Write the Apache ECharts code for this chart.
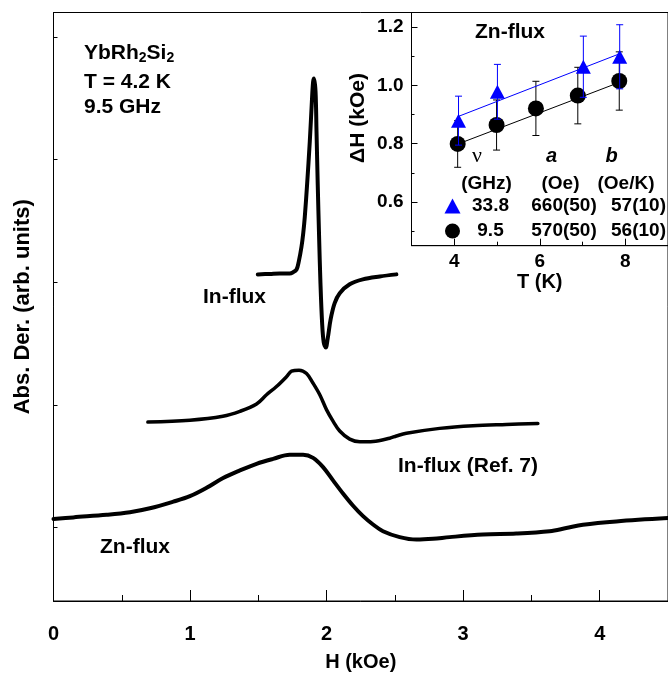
<!DOCTYPE html>
<html>
<head>
<meta charset="utf-8">
<script src="https://cdn.jsdelivr.net/npm/echarts@6/dist/echarts.min.js"></script>
<style>
  html, body { margin: 0; padding: 0; background: #fff; }
  #chart { width: 668px; height: 677px; }
</style>
</head>
<body>
<div id="chart"></div>
<script>
// ESR absorption-derivative spectra of YbRh2Si2 (field in kOe, signal in arbitrary units)
const inFluxField = [1.496, 1.584, 1.657, 1.730, 1.752, 1.780, 1.796, 1.816, 1.829, 1.840,
  1.857, 1.877, 1.892, 1.901, 1.908, 1.919, 1.926, 1.935, 1.945, 1.955,
  1.967, 1.979, 1.994, 2.008, 2.030, 2.059, 2.096, 2.169, 2.265, 2.389, 2.511];
const inFluxSignal = [2.664, 2.668, 2.672, 2.672, 2.680, 2.704, 2.768, 2.889, 3.002, 3.130,
  3.396, 3.750, 4.072, 4.233, 4.261, 4.152, 3.831, 3.396, 2.969, 2.591,
  2.269, 2.108, 2.068, 2.141, 2.301, 2.430, 2.511, 2.583, 2.623, 2.647, 2.664];

const refField = [0.691, 0.999, 1.240, 1.365, 1.487, 1.560, 1.633, 1.706, 1.743, 1.798,
  1.853, 1.901, 1.950, 1.999, 2.047, 2.096, 2.169, 2.243, 2.340, 2.462,
  2.511, 2.584, 2.828, 3.072, 3.316, 3.547];
const refSignal = [1.459, 1.475, 1.507, 1.547, 1.607, 1.682, 1.749, 1.829, 1.875, 1.883,
  1.856, 1.776, 1.682, 1.561, 1.467, 1.387, 1.320, 1.298, 1.301, 1.328,
  1.346, 1.368, 1.408, 1.430, 1.440, 1.448];

const znFluxField = [0.0, 0.145, 0.389, 0.560, 0.706, 0.877, 0.999, 1.121, 1.242, 1.365,
  1.487, 1.608, 1.730, 1.828, 1.901, 1.974, 2.047, 2.120, 2.194, 2.267,
  2.340, 2.413, 2.535, 2.658, 2.779, 2.901, 3.145, 3.389, 3.633, 3.755,
  3.877, 4.121, 4.5];
const znFluxSignal = [0.668, 0.682, 0.703, 0.724, 0.756, 0.810, 0.855, 0.923, 1.003, 1.065,
  1.119, 1.159, 1.193, 1.193, 1.167, 1.092, 0.984, 0.877, 0.777, 0.692,
  0.624, 0.569, 0.521, 0.501, 0.507, 0.521, 0.542, 0.550, 0.569, 0.595,
  0.622, 0.649, 0.676];

const fieldTicks = [0, 1, 2, 3, 4];
const fieldMinorTicks = [0.5, 1.5, 2.5, 3.5];
const signalTicks = [0.6, 1.6, 2.6, 3.6, 4.6];

// Inset: linewidth vs temperature (kOe, K)
const tempHigh = [4.10, 5.01, 7.02, 7.87];
const widthHigh = [0.879, 0.978, 1.064, 1.098];
const errHigh = [0.084, 0.094, 0.105, 0.110];

const tempLow = [4.08, 4.99, 5.91, 6.89, 7.86];
const widthLow = [0.799, 0.864, 0.921, 0.965, 1.015];
const errLow = [0.080, 0.086, 0.093, 0.097, 0.100];

// Fit parameters, dH = a + b*T
const freqLabels = ['33.8', '9.5'];
const fitA = [660, 570];          // Oe
const fitB = [57, 56];            // Oe/K
const fitALabels = ['660(50)', '570(50)'];
const fitBLabels = ['57(10)', '56(10)'];

const tempTicks = [4, 6, 8];
const tempMinorTicks = [5, 7];
const widthTicks = [0.6, 0.8, 1.0, 1.2];
const widthMinorTicks = [0.5, 0.7, 0.9, 1.1];

const BLUE = '#0000ff';
const FONT = '"Liberation Sans", Arial, Helvetica, sans-serif';

const zip = (xs, ys) => xs.map((x, i) => [x, ys[i]]);
const zip3 = (xs, ys, es) => xs.map((x, i) => [x, ys[i], es[i]]);
const fitLine = (temps, k) => {
  const t0 = Math.min(...temps), t1 = Math.max(...temps);
  return [t0, t1].map(t => [t, (fitA[k] + fitB[k] * t) / 1000]);
};

function errorBars(color) {
  return function (params, api) {
    const x = api.value(0), y = api.value(1), e = api.value(2);
    const top = api.coord([x, y + e]);
    const bot = api.coord([x, y - e]);
    const hw = 3.5;
    const st = { stroke: color, lineWidth: 1 };
    return {
      type: 'group',
      children: [
        { type: 'line', shape: { x1: top[0], y1: top[1], x2: bot[0], y2: bot[1] }, style: st },
        { type: 'line', shape: { x1: top[0] - hw, y1: top[1], x2: top[0] + hw, y2: top[1] }, style: st },
        { type: 'line', shape: { x1: bot[0] - hw, y1: bot[1], x2: bot[0] + hw, y2: bot[1] }, style: st }
      ]
    };
  };
}

const bold = (size, extra) => Object.assign({ fontFamily: FONT, fontWeight: 'bold', fontSize: size, color: '#000' }, extra || {});

const chart = echarts.init(document.getElementById('chart'), null, { renderer: 'canvas' });

const spectrumLine = (name, fields, signals, width) => ({
  name, type: 'line', xAxisIndex: 0, yAxisIndex: 0,
  data: zip(fields, signals), showSymbol: false, symbol: 'none',
  smooth: 0.35,
  lineStyle: { color: '#000', width, cap: 'round', join: 'round' }
});

const option = {
  animation: false,
  backgroundColor: '#fff',
  grid: [
    { left: 53.5, top: 12.5, width: 615, height: 596.5, show: true, borderColor: '#000', borderWidth: 1, backgroundColor: 'transparent' },
    { left: 411.5, top: 12.5, width: 256.5, height: 233.2, show: true, borderColor: '#000', borderWidth: 1, backgroundColor: '#fff' }
  ],
  xAxis: [
    {
      gridIndex: 0, type: 'value', min: 0, max: 4.5, position: 'bottom',
      name: 'H (kOe)', nameLocation: 'middle', nameGap: 51, nameTextStyle: bold(20),
      axisLine: { lineStyle: { color: '#000', width: 1 } },
      axisTick: { inside: true, length: 11, customValues: fieldTicks, lineStyle: { color: '#000' } },
      axisLabel: Object.assign({ customValues: fieldTicks, margin: 23 }, bold(20)),
      splitLine: { show: false }
    },
    {
      gridIndex: 0, type: 'value', min: 0, max: 4.5, position: 'bottom',
      axisLine: { show: false },
      axisTick: { inside: true, length: 6, customValues: fieldMinorTicks, lineStyle: { color: '#000' } },
      axisLabel: { show: false }, splitLine: { show: false }
    },
    {
      gridIndex: 1, type: 'value', min: 3, max: 9, position: 'bottom',
      name: 'T (K)', nameLocation: 'middle', nameGap: 23, nameTextStyle: bold(20),
      axisLine: { lineStyle: { color: '#000', width: 1 } },
      axisTick: { inside: true, length: 7, customValues: tempTicks, lineStyle: { color: '#000' } },
      axisLabel: Object.assign({ customValues: tempTicks, margin: 7 }, bold(19)),
      splitLine: { show: false }
    },
    {
      gridIndex: 1, type: 'value', min: 3, max: 9, position: 'bottom',
      axisLine: { show: false },
      axisTick: { inside: true, length: 4, customValues: tempMinorTicks, lineStyle: { color: '#000' } },
      axisLabel: { show: false }, splitLine: { show: false }
    }
  ],
  yAxis: [
    {
      gridIndex: 0, type: 'value', min: 0, max: 4.8, position: 'left',
      name: 'Abs. Der. (arb. units)', nameLocation: 'middle', nameGap: 20, nameTextStyle: bold(22),
      axisLine: { lineStyle: { color: '#000', width: 1 } },
      axisTick: { inside: true, length: 4, customValues: signalTicks, lineStyle: { color: '#000' } },
      axisLabel: { show: false }, splitLine: { show: false }
    },
    {
      gridIndex: 1, type: 'value', min: 0.45, max: 1.25, position: 'left',
      axisLine: { lineStyle: { color: '#000', width: 1 } },
      axisTick: { inside: true, length: 6, customValues: widthTicks, lineStyle: { color: '#000' } },
      axisLabel: Object.assign({ customValues: widthTicks, margin: 8, formatter: v => v.toFixed(1) }, bold(19)),
      splitLine: { show: false }
    },
    {
      gridIndex: 1, type: 'value', min: 0.45, max: 1.25, position: 'left',
      axisLine: { show: false },
      axisTick: { inside: true, length: 3, customValues: widthMinorTicks, lineStyle: { color: '#000' } },
      axisLabel: { show: false }, splitLine: { show: false }
    }
  ],
  legend: {
    data: freqLabels,
    orient: 'vertical',
    left: 439.5, top: 191.5,
    itemWidth: 16, itemHeight: 15, itemGap: 6,
    selectedMode: false,
    formatter: name => {
      const k = freqLabels.indexOf(name);
      return '{f|' + name + '}{a|' + fitALabels[k] + '}{b|' + fitBLabels[k] + '}';
    },
    textStyle: {
      rich: {
        f: bold(19, { width: 50, align: 'center', lineHeight: 20 }),
        a: bold(19, { width: 97, align: 'center', lineHeight: 20 }),
        b: bold(19, { width: 52, align: 'center', lineHeight: 20 })
      }
    }
  },
  series: [
    spectrumLine('In-flux', inFluxField, inFluxSignal, 4),
    spectrumLine('In-flux (Ref. 7)', refField, refSignal, 3.5),
    spectrumLine('Zn-flux', znFluxField, znFluxSignal, 4),
    {
      name: 'err9.5', type: 'custom', xAxisIndex: 2, yAxisIndex: 1,
      data: zip3(tempLow, widthLow, errLow), renderItem: errorBars('#000'), z: 3
    },
    {
      name: 'fit9.5', type: 'line', xAxisIndex: 2, yAxisIndex: 1,
      data: fitLine(tempLow, 1), showSymbol: false, symbol: 'none',
      lineStyle: { color: '#000', width: 1 }, z: 3
    },
    {
      name: '9.5', type: 'scatter', xAxisIndex: 2, yAxisIndex: 1,
      data: zip(tempLow, widthLow), symbol: 'circle', symbolSize: 16,
      itemStyle: { color: '#000', opacity: 1 }, z: 4
    },
    {
      name: 'err33.8', type: 'custom', xAxisIndex: 2, yAxisIndex: 1,
      data: zip3(tempHigh, widthHigh, errHigh), renderItem: errorBars(BLUE), z: 5
    },
    {
      name: 'fit33.8', type: 'line', xAxisIndex: 2, yAxisIndex: 1,
      data: fitLine(tempHigh, 0), showSymbol: false, symbol: 'none',
      lineStyle: { color: BLUE, width: 1 }, z: 5
    },
    {
      name: '33.8', type: 'scatter', xAxisIndex: 2, yAxisIndex: 1,
      data: zip(tempHigh, widthHigh), symbol: 'triangle', symbolSize: [15, 14],
      itemStyle: { color: BLUE, opacity: 1 }, z: 6
    }
  ],
  graphic: [
    {
      type: 'text', left: 84, top: 42.5, z: 10,
      style: {
        text: '{m|YbRh}{s|2}{m|Si}{s|2}',
        rich: {
          m: bold(21, { lineHeight: 25, verticalAlign: 'middle' }),
          s: bold(14, { lineHeight: 12, verticalAlign: 'bottom' })
        }
      }
    },
    { type: 'text', x: 84, y: 82, z: 10, style: { text: 'T = 4.2 K', verticalAlign: 'middle', fill: '#000', font: 'bold 21px ' + FONT } },
    { type: 'text', x: 84, y: 107, z: 10, style: { text: '9.5 GHz', verticalAlign: 'middle', fill: '#000', font: 'bold 21px ' + FONT } },
    { type: 'text', x: 203, y: 297, z: 10, style: { text: 'In-flux', verticalAlign: 'middle', fill: '#000', font: 'bold 21px ' + FONT } },
    { type: 'text', x: 398, y: 466, z: 10, style: { text: 'In-flux (Ref. 7)', verticalAlign: 'middle', fill: '#000', font: 'bold 21px ' + FONT } },
    { type: 'text', x: 100, y: 547, z: 10, style: { text: 'Zn-flux', verticalAlign: 'middle', fill: '#000', font: 'bold 21px ' + FONT } },
    { type: 'text', x: 510, y: 32.5, z: 10, style: { text: 'Zn-flux', align: 'center', verticalAlign: 'middle', fill: '#000', font: 'bold 21px ' + FONT } },
    {
      type: 'text', x: 358, y: 118, rotation: Math.PI / 2, z: 10,
      style: { text: 'ΔH (kOe)', align: 'center', verticalAlign: 'middle', fill: '#000', font: 'bold 21px ' + FONT }
    },
    { type: 'text', x: 477, y: 156, z: 10, style: { text: 'ν', align: 'center', verticalAlign: 'middle', fill: '#000', font: '22px "Liberation Serif", "DejaVu Serif", serif' } },
    { type: 'text', x: 551.5, y: 156, z: 10, style: { text: 'a', align: 'center', verticalAlign: 'middle', fill: '#000', font: 'italic bold 20px ' + FONT } },
    { type: 'text', x: 611.5, y: 156, z: 10, style: { text: 'b', align: 'center', verticalAlign: 'middle', fill: '#000', font: 'italic bold 20px ' + FONT } },
    { type: 'text', x: 486.5, y: 183.5, z: 10, style: { text: '(GHz)', align: 'center', verticalAlign: 'middle', fill: '#000', font: 'bold 19px ' + FONT } },
    { type: 'text', x: 560.5, y: 183.5, z: 10, style: { text: '(Oe)', align: 'center', verticalAlign: 'middle', fill: '#000', font: 'bold 19px ' + FONT } },
    { type: 'text', x: 626, y: 183.5, z: 10, style: { text: '(Oe/K)', align: 'center', verticalAlign: 'middle', fill: '#000', font: 'bold 19px ' + FONT } }
  ]
};

chart.setOption(option);
</script>
</body>
</html>
